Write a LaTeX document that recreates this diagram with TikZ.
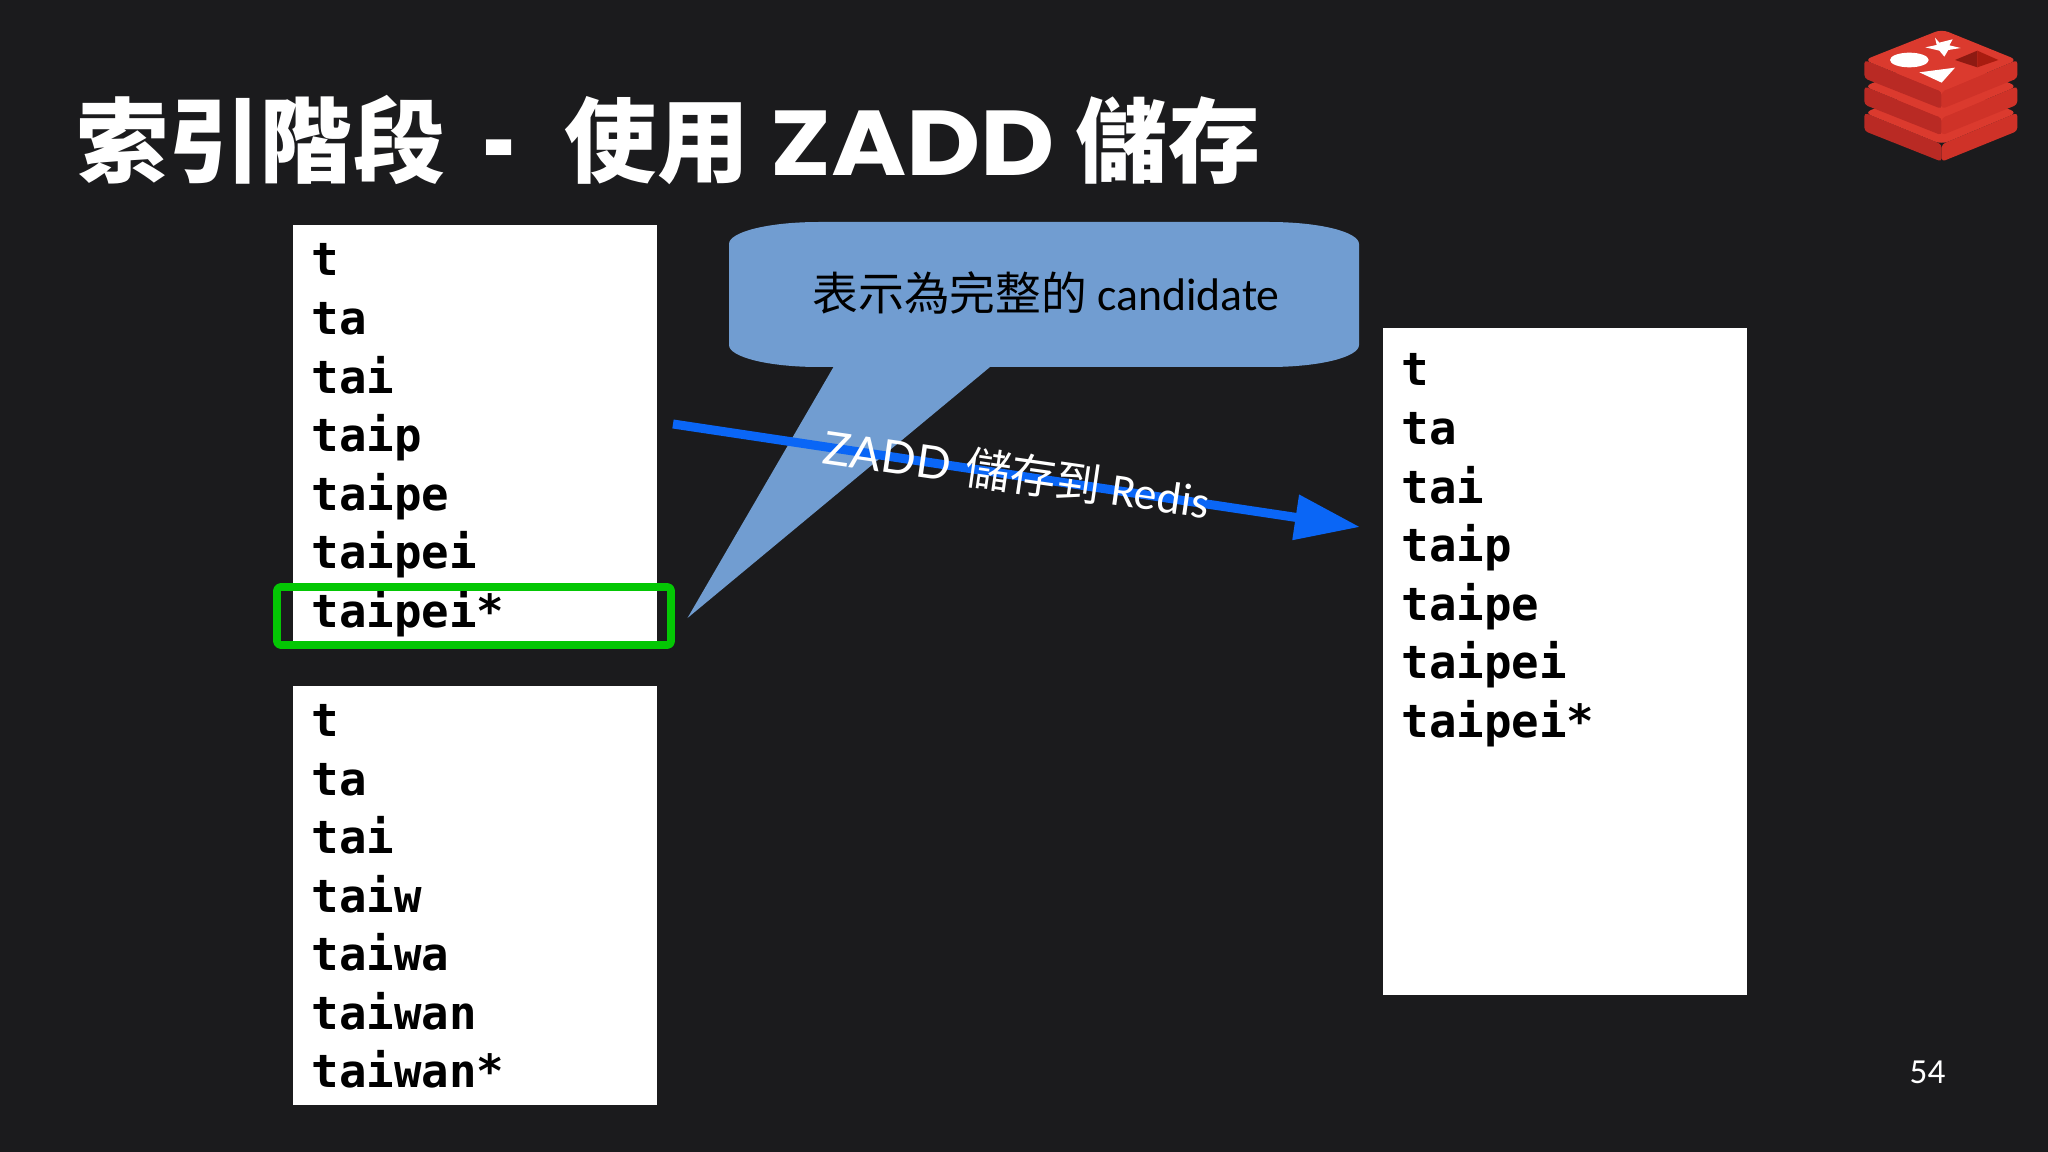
\documentclass[tikz,border=0pt]{standalone}
\usepackage{fontspec}
\setmainfont{Carlito}
\setmonofont{DejaVu Sans Mono}
\newfontfamily\cjk{Noto Sans CJK TC}
\newfontfamily\titlefont{Poppins}
\newfontfamily\capfont{Lato}
\usetikzlibrary{arrows.meta}
\definecolor{slidebg}{HTML}{1B1B1D}
\definecolor{bubblefill}{HTML}{719DD1}
\definecolor{zaddblue}{HTML}{0A66F6}
\definecolor{markgreen}{HTML}{04C704}
\definecolor{redisface}{HTML}{DB3A2E}
\definecolor{redisleft}{HTML}{B92A24}
\definecolor{redisright}{HTML}{CF3228}
\definecolor{redishole}{HTML}{8E1A12}
\definecolor{redisholeb}{HTML}{A81C10}
\tikzset{
	listbox/.style={fill=white,inner sep=0pt,anchor=north west},
	listword/.style={anchor=base west,inner sep=0pt,font=\ttfamily\bfseries\fontsize{13pt}{15pt}\selectfont},
	bodytext/.style={anchor=base west,inner sep=0pt,font=\fontsize{13pt}{16pt}\selectfont},
}
\begin{document}
\begin{tikzpicture}[>=stealth,line join=round,x=.01cm,y=-.01cm]
	\useasboundingbox[fill=slidebg] (0,0) rectangle (2048,1152);
	\node[anchor=base west,inner sep=0pt,text=white,font=\fontsize{26.2pt}{30pt}\selectfont\bfseries] (title) at (76,176) {{\cjk 索引階段}\hspace{.42em}\raisebox{-3pt}{\scalebox{.62}[1.2]{\titlefont -}}\hspace{.52em}{\cjk 使用} \scalebox{1.11}[1]{\titlefont ZADD} {\cjk 儲存}};
	% word lists
	\node[listbox,minimum width=3.64cm,minimum height=4.18cm] (boxa) at (292,224) {};
	\node[listbox,minimum width=3.64cm,minimum height=4.19cm] (boxb) at (292,685) {};
	\node[listbox,minimum width=3.64cm,minimum height=6.67cm] (boxc) at (1382,327) {};
	\foreach \w [count=\i] in {t,ta,tai,taip,taipe,taipei,taipei*}
		\node[listword] (a\i) at (311,{276+(\i-1)*58.6}) {\w};
	\foreach \w [count=\i] in {t,ta,tai,taiw,taiwa,taiwan,taiwan*}
		\node[listword] (b\i) at (311,{736.5+(\i-1)*58.5}) {\w};
	\foreach \w [count=\i] in {t,ta,tai,taip,taipe,taipei,taipei*}
		\node[listword] (c\i) at (1401,{386+(\i-1)*58.6}) {\w};
	\draw[markgreen,line width=2.2pt,rounded corners=1pt] (277,587) rectangle (671,645);
	% callout
	\fill[bubblefill] (819,222) -- (1269,222) .. controls (1320,222) and (1359,232) .. (1359,244)
		-- (1359,345) .. controls (1359,357) and (1320,367) .. (1269,367) -- (990,367) -- (687.5,618) -- (833.5,367)
		-- (819,367) .. controls (768,367) and (729,357) .. (729,345) -- (729,244) .. controls (729,232) and (768,222) .. (819,222) -- cycle;
	\node[bodytext] (cand) at (812,311) {{\cjk 表示為完整的} candidate};
	% arrow to redis
	\coordinate (from) at (673,424);
	\coordinate (to) at (1360,527);
	\draw[zaddblue,line width=2.56pt,-{Triangle[length=18.5pt,width=12.4pt]}] (from) -- (to);
	\node[bodytext,text=white,rotate=-8.2] (zadd) at (821,463) {{\capfont ZADD}\hspace{.1em} {\cjk 儲存到} Redis};
	\node[bodytext,text=white,font=\fontsize{10pt}{12pt}\selectfont] (page) at (1909,1083) {54};
	% logo
	\begin{scope}[shift={(1820,10)},scale=1/3]
		\foreach \s in {158,79,0} {
			\fill[redisleft,rounded corners=1pt] (133,{150+\s}) -- (365,{245+\s}) -- (365,{297+\s}) -- (133,{205+\s}) -- cycle;
			\fill[redisright,rounded corners=1pt] (592,{150+\s}) -- (365,{245+\s}) -- (365,{297+\s}) -- (592,{205+\s}) -- cycle;
			\fill[redisface,rounded corners=2pt] (133,{150+\s}) -- (365,{58+\s}) -- (592,{150+\s}) -- (365,{245+\s}) -- cycle;
		}
		\fill[white] (268,150) ellipse [x radius=58,y radius=22];
		\fill[white] (345,83) -- (358,98) -- (398,88) -- (388,106) -- (422,114) -- (385,120) -- (373,140) -- (358,122) -- (316,112) -- (350,105) -- cycle;
		\fill[white] (298,187) -- (405,173) -- (365,218) -- cycle;
		\fill[redishole] (405,150) -- (472,122) -- (472,172) -- cycle;
		\fill[redisholeb] (472,122) -- (535,150) -- (472,172) -- cycle;
	\end{scope}
\end{tikzpicture}
\end{document}
